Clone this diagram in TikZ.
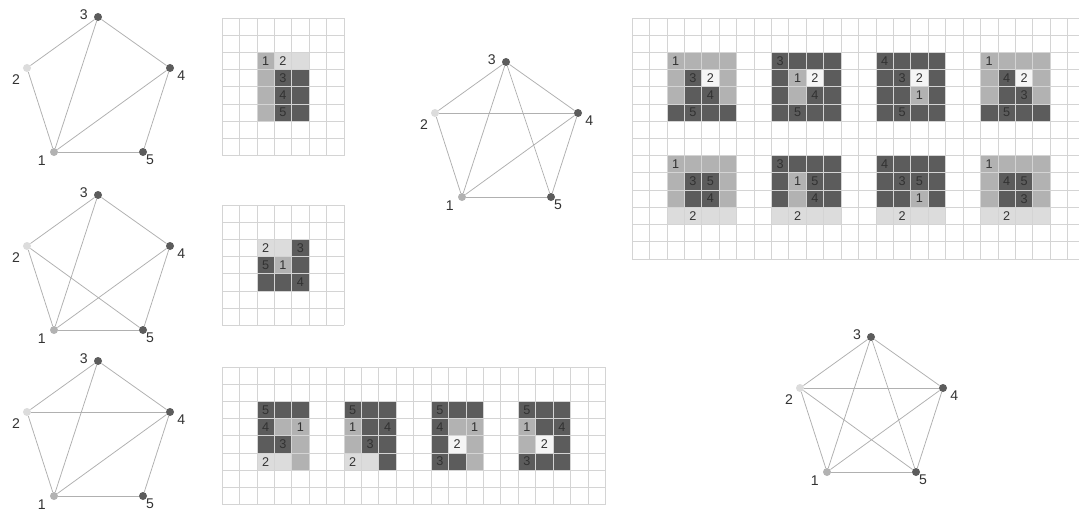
\documentclass[tikz,border=0pt]{standalone}
\usepackage{fontspec}
\setmainfont{Liberation Sans}
\usepackage{tikz}
\usetikzlibrary{positioning}
\usepackage{xcolor}
\definecolor{dk}{RGB}{92,92,92}
\definecolor{md}{RGB}{178,178,178}
\definecolor{lt}{RGB}{220,220,220}
\definecolor{wt}{RGB}{245,245,245}
\definecolor{gridgray}{RGB}{212,212,212}
\definecolor{edgegray}{RGB}{176,176,176}
\definecolor{numgray}{RGB}{50,50,50}

\begin{document}
\begin{tikzpicture}[x=0.025cm, y=-0.025cm,
  vtx/.style={circle, inner sep=0pt, minimum size=0.2cm},
  edge/.style={draw=edgegray, line width=0.55pt},
  vnum/.style={font=\fontsize{10}{12}\selectfont, text=numgray, inner sep=1pt},
  cellnum/.style={font=\fontsize{9}{10}\selectfont, text=numgray, inner sep=0pt},
  gridline/.style={draw=gridgray, line width=0.5pt},
  cellunits/.style={x=0.4355cm, y=-0.43cm}]
  \useasboundingbox (0,0) rectangle (1079,513);

  % the five graphs (same pentagon, shifted)
  \foreach \g/\sx/\sy in {a/27/68, b/27/246, c/27/412, d/435/113, e/800/388} {
    \begin{scope}[shift={(\sx,\sy)}]
      \node[vtx, fill=md, label={[vnum, label distance=2pt]-160:1}] (\g1) at (27,84) {};
      \node[vtx, fill=lt, label={[vnum, label distance=2pt]-140:2}] (\g2) at (0,0) {};
      \node[vtx, fill=dk, label={[vnum, label distance=3pt, yshift=2pt]left:3}] (\g3) at (71,-51) {};
      \node[vtx, fill=dk, label={[vnum, label distance=1pt]-12:4}] (\g4) at (143,0) {};
      \node[vtx, fill=dk, label={[vnum, label distance=-1.5pt]-45:5}] (\g5) at (116,84) {};
    \end{scope}
  }
  \foreach \g in {a,b,c,d,e}
    \foreach \u/\v in {2/3, 3/4, 3/1, 2/1, 1/4, 4/5, 1/5}
      \draw[edge] (\g\u) -- (\g\v);
  \draw[edge] (b2) -- (b5);
  \draw[edge] (c2) -- (c4);
  \draw[edge] (d2) -- (d4);
  \draw[edge] (d3) -- (d5);
  \draw[edge] (e2) -- (e4);
  \draw[edge] (e3) -- (e5);
  \draw[edge] (e2) -- (e5);

  % grid 1
  \begin{scope}[shift={(222,18)}, cellunits]
    \fill[md] (2,2) rectangle (3,6);
    \fill[lt] (3,2) rectangle (5,3);
    \fill[dk] (3,3) rectangle (5,6);
    \foreach \i in {0,...,7} \draw[gridline] (\i,0) -- (\i,8);
    \foreach \j in {0,...,8} \draw[gridline] (0,\j) -- (7,\j);
    \foreach \i/\r/\t in {2/2/1, 3/2/2, 3/3/3, 3/4/4, 3/5/5}
      \node[cellnum] (ga-\t) at (\i+.5,\r+.5) {\t};
  \end{scope}

  % grid 2
  \begin{scope}[shift={(222,205)}, cellunits]
    \fill[lt] (2,2) rectangle (4,3);
    \fill[dk] (4,2) rectangle (5,4);
    \fill[dk] (2,3) rectangle (3,4);
    \fill[md] (3,3) rectangle (4,4);
    \fill[dk] (2,4) rectangle (5,5);
    \foreach \i in {0,...,7} \draw[gridline] (\i,0) -- (\i,7);
    \foreach \j in {0,...,7} \draw[gridline] (0,\j) -- (7,\j);
    \foreach \i/\r/\t in {2/2/2, 4/2/3, 2/3/5, 3/3/1, 4/4/4}
      \node[cellnum] (gb-\t) at (\i+.5,\r+.5) {\t};
  \end{scope}

  % grid 3, four 3x4 blocks
  \begin{scope}[shift={(222,367)}, cellunits]
    \foreach \p/\ox/\rows/\nums in {
        A/2/{2/{dk,dk,dk},3/{dk,md,md},4/{dk,dk,md},5/{lt,lt,md}}/{0/2/5,0/3/4,2/3/1,1/4/3,0/5/2},
        B/7/{2/{dk,dk,dk},3/{md,dk,dk},4/{md,dk,dk},5/{lt,lt,dk}}/{0/2/5,0/3/1,2/3/4,1/4/3,0/5/2},
        C/12/{2/{dk,dk,dk},3/{dk,md,md},4/{dk,wt,md},5/{dk,dk,md}}/{0/2/5,0/3/4,2/3/1,1/4/2,0/5/3},
        D/17/{2/{dk,dk,dk},3/{md,dk,dk},4/{md,wt,dk},5/{dk,dk,dk}}/{0/2/5,0/3/1,2/3/4,1/4/2,0/5/3}} {
      \begin{scope}[shift={(\ox,0)}]
        \foreach \r/\row in \rows
          \foreach \c [count=\i from 0] in \row
            \fill[\c] (\i,\r) rectangle ++(1,1);
        \foreach \i/\r/\t in \nums
          \node[cellnum] (gc\p-\t) at (\i+.5,\r+.5) {\t};
      \end{scope}
    }
    \foreach \i in {0,...,22} \draw[gridline] (\i,0) -- (\i,8);
    \foreach \j in {0,...,8} \draw[gridline] (0,\j) -- (22,\j);
  \end{scope}

  % grid 4, two rows of 4x4 blocks
  \begin{scope}[shift={(632,18)}, cellunits]
    \foreach \p/\ox/\oy/\rows/\nums in {
        P/2/0/{2/{md,md,md,md},3/{md,dk,wt,md},4/{md,dk,dk,md},5/{dk,dk,dk,dk}}/{0/2/1,1/3/3,2/3/2,2/4/4,1/5/5},
        Q/8/0/{2/{dk,dk,dk,dk},3/{dk,md,wt,dk},4/{dk,md,dk,dk},5/{dk,dk,dk,dk}}/{0/2/3,1/3/1,2/3/2,2/4/4,1/5/5},
        R/14/0/{2/{dk,dk,dk,dk},3/{dk,dk,wt,dk},4/{dk,dk,md,dk},5/{dk,dk,dk,dk}}/{0/2/4,1/3/3,2/3/2,2/4/1,1/5/5},
        S/20/0/{2/{md,md,md,md},3/{md,dk,wt,md},4/{md,dk,dk,md},5/{dk,dk,dk,dk}}/{0/2/1,1/3/4,2/3/2,2/4/3,1/5/5},
        T/2/6/{2/{md,md,md,md},3/{md,dk,dk,md},4/{md,dk,dk,md},5/{lt,lt,lt,lt}}/{0/2/1,1/3/3,2/3/5,2/4/4,1/5/2},
        U/8/6/{2/{dk,dk,dk,dk},3/{dk,md,dk,dk},4/{dk,md,dk,dk},5/{lt,lt,lt,lt}}/{0/2/3,1/3/1,2/3/5,2/4/4,1/5/2},
        V/14/6/{2/{dk,dk,dk,dk},3/{dk,dk,dk,dk},4/{dk,dk,md,dk},5/{lt,lt,lt,lt}}/{0/2/4,1/3/3,2/3/5,2/4/1,1/5/2},
        W/20/6/{2/{md,md,md,md},3/{md,dk,dk,md},4/{md,dk,dk,md},5/{lt,lt,lt,lt}}/{0/2/1,1/3/4,2/3/5,2/4/3,1/5/2}} {
      \begin{scope}[shift={(\ox,\oy)}]
        \foreach \r/\row in \rows
          \foreach \c [count=\i from 0] in \row
            \fill[\c] (\i,\r) rectangle ++(1,1);
        \foreach \i/\r/\t in \nums
          \node[cellnum] (gd\p-\t) at (\i+.5,\r+.5) {\t};
      \end{scope}
    }
    \foreach \i in {0,...,25} \draw[gridline] (\i,0) -- (\i,14);
    \foreach \j in {0,...,14} \draw[gridline] (0,\j) -- (25.65,\j);
  \end{scope}
\end{tikzpicture}
\end{document}
